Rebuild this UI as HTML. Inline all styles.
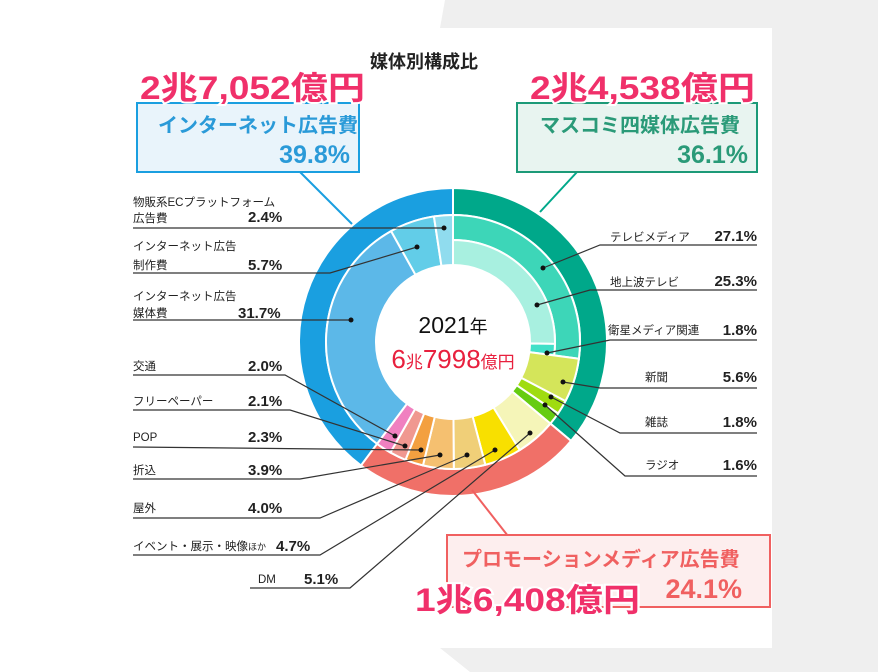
<!DOCTYPE html>
<html><head><meta charset="utf-8"><style>
body{margin:0;width:878px;height:672px;background:#fff;overflow:hidden;font-family:"Liberation Sans","Noto Sans CJK JP",sans-serif}
svg{position:absolute;left:0;top:0}
</style></head><body>
<svg id="s" width="878" height="672" viewBox="0 0 878 672" font-family="Liberation Sans, Noto Sans CJK JP, sans-serif">
<polygon points="445,0 878,0 878,672 470,672 440,648 440,28" fill="#efefef"/>
<rect x="120" y="28" width="652" height="620" fill="#fff"/>
<g id="ring"></g>
<g stroke="#333" stroke-width="1.2" fill="none">
<polyline points="133,228 444,228"/>
<polyline points="133,273 330,273 417,247"/>
<polyline points="133,320 351,320"/>
<polyline points="133,375 285,375 395,436"/>
<polyline points="133,410 290,410 405,446"/>
<polyline points="133,447 421,450"/>
<polyline points="133,479 300,479 440,455"/>
<polyline points="133,518 320,518 467,455"/>
<polyline points="133,555 320,555 495,450"/>
<polyline points="250,588 350,588 530,433"/>
<polyline points="757,245 600,245 543,268"/>
<polyline points="757,290 590,290 537,305"/>
<polyline points="757,340 610,340 547,353"/>
<polyline points="757,388 600,388 563,382"/>
<polyline points="757,433 620,433 551,397"/>
<polyline points="757,476 625,476 545,405"/>
</g>
<g fill="#111">
<circle cx="444" cy="228" r="2.5"/><circle cx="417" cy="247" r="2.5"/><circle cx="351" cy="320" r="2.5"/>
<circle cx="395" cy="436" r="2.5"/><circle cx="405" cy="446" r="2.5"/><circle cx="421" cy="450" r="2.5"/>
<circle cx="440" cy="455" r="2.5"/><circle cx="467" cy="455" r="2.5"/><circle cx="495" cy="450" r="2.5"/>
<circle cx="530" cy="433" r="2.5"/><circle cx="543" cy="268" r="2.5"/><circle cx="537" cy="305" r="2.5"/>
<circle cx="547" cy="353" r="2.5"/><circle cx="563" cy="382" r="2.5"/><circle cx="551" cy="397" r="2.5"/><circle cx="545" cy="405" r="2.5"/>
</g>
<line x1="300" y1="172" x2="352" y2="224" stroke="#1a9fe0" stroke-width="2"/>
<line x1="577" y1="172" x2="540" y2="212" stroke="#00a88a" stroke-width="2"/>
<line x1="508" y1="536" x2="472" y2="490" stroke="#f06060" stroke-width="2"/>
<rect x="137" y="103" width="222" height="69" fill="#e9f4fb" stroke="#1a9fe0" stroke-width="2"/>
<rect x="517" y="103" width="240" height="69" fill="#e8f4f0" stroke="#1c9a78" stroke-width="2"/>
<rect x="447" y="535" width="323" height="72" fill="#fdeeee" stroke="#f06060" stroke-width="2"/>
<text x="158" y="132" font-size="20" fill="#2a9ad8" font-weight="bold">インターネット広告費</text>
<text x="350" y="163" font-size="25" fill="#2a9ad8" font-weight="bold" text-anchor="end">39.8%</text>
<text x="540" y="132" font-size="20" fill="#2a9a78" font-weight="bold">マスコミ四媒体広告費</text>
<text x="748" y="163" font-size="25" fill="#2a9a78" font-weight="bold" text-anchor="end">36.1%</text>
<text x="462" y="566" font-size="20" fill="#f06060" font-weight="bold">プロモーションメディア広告費</text>
<text x="742" y="598" font-size="27" fill="#f06060" font-weight="bold" text-anchor="end">24.1%</text>
<text x="370" y="68" font-size="18" font-weight="bold" fill="#222">媒体別構成比</text>
<g font-size="32" font-weight="bold" fill="#f0306a" stroke="#fff" stroke-width="4" paint-order="stroke">
<text x="140" y="99" textLength="225" lengthAdjust="spacingAndGlyphs">2兆7,052億円</text>
<text x="530" y="99" textLength="225" lengthAdjust="spacingAndGlyphs">2兆4,538億円</text>
<text x="415" y="611" textLength="225" lengthAdjust="spacingAndGlyphs">1兆6,408億円</text>
</g>
<text x="453" y="333" font-size="23" text-anchor="middle" fill="#111">2021<tspan font-size="18">年</tspan></text>
<text x="453" y="368" font-size="26" text-anchor="middle" fill="#e8203e">6<tspan font-size="17">兆</tspan>7998<tspan font-size="17">億円</tspan></text>
<g font-size="11.5" fill="#222">
<text x="133" y="206">物販系ECプラットフォーム</text><text x="133" y="222">広告費</text>
<text x="133" y="250">インターネット広告</text><text x="133" y="269">制作費</text>
<text x="133" y="300">インターネット広告</text><text x="133" y="317">媒体費</text>
<text x="133" y="370">交通</text><text x="133" y="405">フリーペーパー</text><text x="133" y="441">POP</text>
<text x="133" y="474">折込</text><text x="133" y="512">屋外</text><text x="133" y="550">イベント・展示・映像<tspan font-size="9">ほか</tspan></text>
<text x="258" y="583">DM</text>
<text x="610" y="241">テレビメディア</text><text x="610" y="286">地上波テレビ</text><text x="608" y="334">衛星メディア関連</text>
<text x="645" y="381">新聞</text><text x="645" y="426">雑誌</text><text x="645" y="469">ラジオ</text>
</g>
<g font-size="15" font-weight="bold" fill="#222">
<text x="248" y="222">2.4%</text><text x="248" y="270">5.7%</text><text x="238" y="318">31.7%</text>
<text x="248" y="371">2.0%</text><text x="248" y="406">2.1%</text><text x="248" y="442">2.3%</text>
<text x="248" y="475">3.9%</text><text x="248" y="513">4.0%</text><text x="276" y="551">4.7%</text><text x="304" y="584">5.1%</text>
<g text-anchor="end"><text x="757" y="241">27.1%</text><text x="757" y="286">25.3%</text><text x="757" y="335">1.8%</text>
<text x="757" y="382">5.6%</text><text x="757" y="427">1.8%</text><text x="757" y="470">1.6%</text></g>
</g>
</svg>
<script>
var cx=453,cy=342,g=document.getElementById('ring');
function P(r,a){a=a*3.6*Math.PI/180;return [cx+r*Math.sin(a),cy-r*Math.cos(a)];}
function seg(r0,r1,a0,a1,c){var p=P(r1,a0),q=P(r1,a1),s=P(r0,a1),t=P(r0,a0),l=(a1-a0)>50?1:0;
var e=document.createElementNS('http://www.w3.org/2000/svg','path');
e.setAttribute('d','M'+p+' A'+r1+','+r1+' 0 '+l+' 1 '+q+' L'+s+' A'+r0+','+r0+' 0 '+l+' 0 '+t+'Z');
e.setAttribute('fill',c);e.setAttribute('stroke','#fff');e.setAttribute('stroke-width','2');g.appendChild(e);}
seg(127,154,0,36.1,'#00a88a');seg(127,154,36.1,60.2,'#f07068');seg(127,154,60.2,100,'#1a9fe0');
seg(102,127,0,27.1,'#3dd6b8');seg(77,102,0,25.3,'#a8f0e0');seg(77,102,25.3,27.1,'#40e0c8');
var a=27.1;[[5.6,'#d4e55a'],[1.8,'#a0dc10'],[1.6,'#66cc11'],[5.1,'#f5f5b8'],[4.7,'#f8e000'],[4.0,'#f0cf78'],[3.9,'#f5c070'],[2.3,'#f3a040'],[2.1,'#f09890'],[2.0,'#f080c0'],[31.7,'#5cb8e8'],[5.7,'#62cde8'],[2.4,'#90dcee']].forEach(function(d){seg(77,127,a,a+d[0],d[1]);a+=d[0];});
</script>
</body></html>
